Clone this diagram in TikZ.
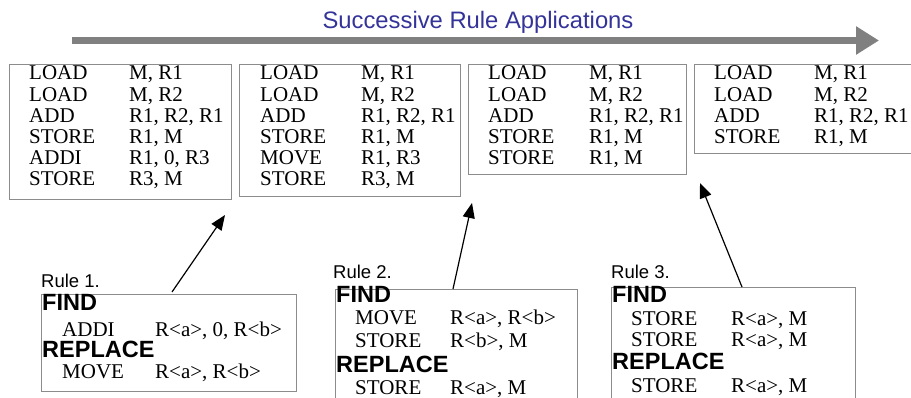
\documentclass[tikz,border=0pt]{standalone}
\usepackage{fontspec}
\setmainfont{Liberation Sans}
\newfontfamily\tms{Liberation Serif}
\usetikzlibrary{arrows.meta}
\definecolor{framegray}{RGB}{140,140,140}
\definecolor{bandgray}{RGB}{128,128,128}
\definecolor{titleblue}{RGB}{51,51,153}
\tikzset{
  codebox/.style={draw=framegray, line width=1.2pt, anchor=north west, inner sep=0pt},
  code/.style={anchor=base west, inner sep=0pt, font=\tms\fontsize{21}{21}\selectfont},
  kw/.style={anchor=base west, inner sep=0pt, font=\bfseries\fontsize{23.5}{23.5}\selectfont},
  rulelabel/.style={anchor=base west, inner sep=0pt, font=\fontsize{18.5}{18.5}\selectfont},
  apply/.style={line width=1.2pt, -{Triangle[length=15pt,width=12pt]}},
}
\newcommand{\prog}[4]{% #1 name, #2 col1 x, #3 col2 x, #4 list of op/arg pairs
  \foreach \op/\arg [count=\i] in {#4}{
    \node[code] (#1-op\i) at (#2, {80+21.2*(\i-1)}) {\op};
    \node[code] (#1-arg\i) at (#3, {80+21.2*(\i-1)}) {\arg};
  }}
\begin{document}
\begin{tikzpicture}[x=1pt,y=-1pt]
\useasboundingbox (0,0) rectangle (911,398);
\clip (0,0) rectangle (911,398);

% progress band
\node[font=\fontsize{23.8}{23.8}\selectfont, text=titleblue, anchor=base, inner sep=0pt] (title) at (478,29) {Successive Rule Applications};
\coordinate (bandL) at (72,40.5);
\coordinate (bandR) at (879,40.5);
\draw[bandgray, line width=7pt, -{Triangle[length=23pt,width=27pt]}] (bandL) -- (bandR);

% code snapshots
\node[codebox, minimum width=222pt, minimum height=135pt] (p1) at (9,64) {};
\node[codebox, minimum width=221pt, minimum height=132pt] (p2) at (239,64) {};
\node[codebox, minimum width=218pt, minimum height=110pt] (p3) at (468,64) {};
\node[codebox, minimum width=230pt, minimum height=89pt] (p4) at (694,64) {};

\prog{p1}{29}{129}{LOAD/{M, R1},LOAD/{M, R2},ADD/{R1, R2, R1},STORE/{R1, M},ADDI/{R1, 0, R3},STORE/{R3, M}}
\prog{p2}{260}{361}{LOAD/{M, R1},LOAD/{M, R2},ADD/{R1, R2, R1},STORE/{R1, M},MOVE/{R1, R3},STORE/{R3, M}}
\prog{p3}{488}{589}{LOAD/{M, R1},LOAD/{M, R2},ADD/{R1, R2, R1},STORE/{R1, M},STORE/{R1, M}}
\prog{p4}{714}{814}{LOAD/{M, R1},LOAD/{M, R2},ADD/{R1, R2, R1},STORE/{R1, M}}

% rule 1
\node[rulelabel] (r1lab) at (41,288) {Rule 1.};
\node[codebox, minimum width=255pt, minimum height=97pt] (r1) at (41,294) {};
\node[kw] (r1find) at (42,311) {FIND};
\node[code] (r1op1) at (62,336) {ADDI};
\node[code] (r1arg1) at (155,336) {R<a>, 0, R<b>};
\node[kw] (r1rep) at (42,357) {REPLACE};
\node[code] (r1op2) at (62,378) {MOVE};
\node[code] (r1arg2) at (155,378) {R<a>, R<b>};

% rule 2
\node[rulelabel] (r2lab) at (333,279) {Rule 2.};
\node[codebox, minimum width=242pt, minimum height=130pt] (r2) at (335,289) {};
\node[kw] (r2find) at (336,303) {FIND};
\node[code] (r2op1) at (355,325) {MOVE};
\node[code] (r2arg1) at (450,325) {R<a>, R<b>};
\node[code] (r2op2) at (355,347) {STORE};
\node[code] (r2arg2) at (450,347) {R<b>, M};
\node[kw] (r2rep) at (336,372) {REPLACE};
\node[code] (r2op3) at (355,394) {STORE};
\node[code] (r2arg3) at (450,394) {R<a>, M};

% rule 3
\node[rulelabel] (r3lab) at (611,279) {Rule 3.};
\node[codebox, minimum width=244pt, minimum height=130pt] (r3) at (611,287) {};
\node[kw] (r3find) at (612,302) {FIND};
\node[code] (r3op1) at (631,326) {STORE};
\node[code] (r3arg1) at (731,326) {R<a>, M};
\node[code] (r3op2) at (631,346) {STORE};
\node[code] (r3arg2) at (731,346) {R<a>, M};
\node[kw] (r3rep) at (612,369) {REPLACE};
\node[code] (r3op3) at (631,392) {STORE};
\node[code] (r3arg3) at (731,392) {R<a>, M};

% rule applications
\coordinate (t1) at (172,292);
\coordinate (h1) at (225,215);
\coordinate (t2) at (453,289);
\coordinate (h2) at (472,203);
\coordinate (t3) at (742,287);
\coordinate (h3) at (700,183);
\draw[apply] (t1) -- (h1);
\draw[apply] (t2) -- (h2);
\draw[apply] (t3) -- (h3);
\end{tikzpicture}
\end{document}
